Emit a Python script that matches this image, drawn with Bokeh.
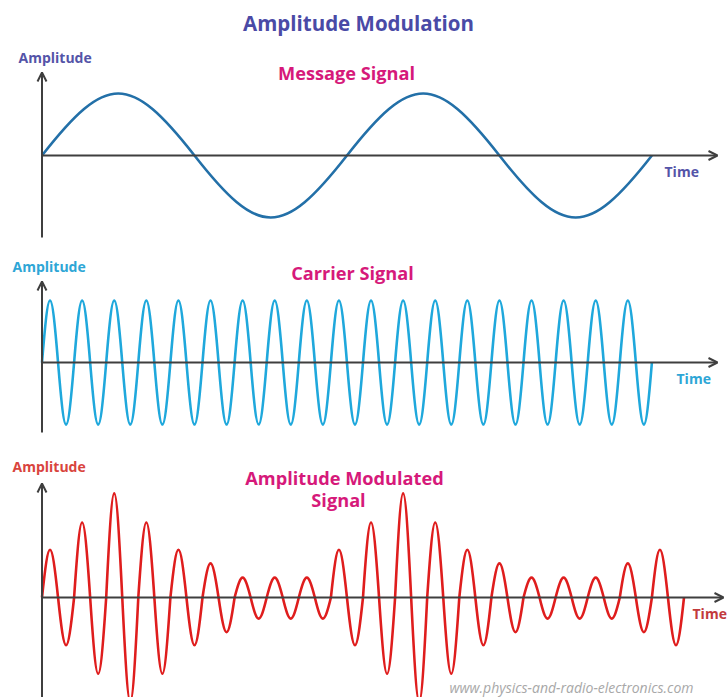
import numpy as np
from bokeh.plotting import figure
from bokeh.layouts import column
from bokeh.models import Range1d, Label, Arrow, OpenHead, ColumnDataSource
from bokeh.embed import file_html
from bokeh.resources import INLINE

# ---------------- data ----------------
# time unit = one carrier period; amplitude unit = carrier amplitude
message_period = 9.5
message_half_cycle_peaks = [1.0, -1.0, 1.0, -1.0]

carrier_period = 1.0
carrier_half_cycle_peaks = [1.0, -1.0, 1.0, -1.0, 1.0, -1.0, 1.0, -1.0, 1.0, -1.0,
                            1.0, -1.0, 1.0, -1.0, 1.0, -1.0, 1.0, -1.0, 1.0, -1.0,
                            1.0, -1.0, 1.0, -1.0, 1.0, -1.0, 1.0, -1.0, 1.0, -1.0,
                            1.0, -1.0, 1.0, -1.0, 1.0, -1.0, 1.0, -1.0]

am_period = 1.0
am_half_cycle_peaks = [0.77, -0.77, 1.21, -1.23, 1.68, -1.68, 1.21, -1.23, 0.77, -0.77,
                       0.55, -0.56, 0.32, -0.34, 0.32, -0.34, 0.32, -0.34, 0.77, -0.77,
                       1.21, -1.23, 1.68, -1.68, 1.21, -1.23, 0.77, -0.77, 0.55, -0.56,
                       0.32, -0.34, 0.32, -0.34, 0.32, -0.34, 0.55, -0.56, 0.77, -0.77]

title_text = "Amplitude Modulation"
panel_titles = [["Message Signal"], ["Carrier Signal"], ["Amplitude Modulated", "Signal"]]
axis_labels = ["Amplitude", "Time"]
watermark = "www.physics-and-radio-electronics.com"

# ---------------- layout ----------------
W = 728
PX_X = 32.1      # px per time unit
PX_Y = 62.0      # px per amplitude unit
ORIGIN_X = 41.5  # x of the time origin
XMIN = (0 - ORIGIN_X) / PX_X
XMAX = (W - ORIGIN_X) / PX_X

AXIS_COLOR = "#3f3f3f"
FONT = "Open Sans"


def make_fig(page_top, page_bottom, base):
    h = page_bottom - page_top
    p = figure(width=W, height=h, output_backend="svg", toolbar_location=None,
               x_range=Range1d(XMIN, XMAX),
               y_range=Range1d((base - page_bottom) / PX_Y, (base - page_top) / PX_Y),
               x_axis_location=None, y_axis_location=None, min_border=0)
    p.grid.visible = False
    p.outline_line_color = None
    p.background_fill_color = "white"
    p.border_fill_color = "white"
    return p


def label(p, page_top, X, Y, text, size, color, align="left", style="bold"):
    h = p.height
    p.add_layout(Label(x=X, y=h - (Y - page_top), x_units="screen", y_units="screen",
                       text=text, text_font=FONT, text_font_size=f"{size}px",
                       text_font_style=style, text_color=color, text_align=align,
                       text_baseline="middle"))


def wave(p, period, peaks, color, width):
    n = len(peaks)
    half = period / 2.0
    x0 = np.arange(n) * half
    x1 = x0 + half
    a = np.asarray(peaks)
    c = 4.0 / (3.0 * np.pi) * half
    src = ColumnDataSource(dict(x0=x0, y0=np.zeros(n), x1=x1, y1=np.zeros(n),
                                cx0=x0 + c, cy0=4.0 / 3.0 * a,
                                cx1=x1 - c, cy1=4.0 / 3.0 * a))
    p.bezier(x0="x0", y0="y0", x1="x1", y1="y1", cx0="cx0", cy0="cy0",
             cx1="cx1", cy1="cy1", source=src, line_color=color, line_width=width)


def axes(p, y_bottom, y_top, x_end):
    p.add_layout(Arrow(end=OpenHead(size=9, line_color=AXIS_COLOR, line_width=2),
                       x_start=0, y_start=y_bottom, x_end=0, y_end=y_top,
                       line_color=AXIS_COLOR, line_width=2))
    p.add_layout(Arrow(end=OpenHead(size=9, line_color=AXIS_COLOR, line_width=2),
                       x_start=0, y_start=0, x_end=x_end, y_end=0,
                       line_color=AXIS_COLOR, line_width=2))


# ---- panel 1: message ----
T1, B1, BASE1 = 0, 245, 155
p1 = make_fig(T1, B1, BASE1)
axes(p1, (BASE1 - 237) / PX_Y, (BASE1 - 72) / PX_Y, (717 - ORIGIN_X) / PX_X)
wave(p1, message_period, message_half_cycle_peaks, "#2370a8", 2.6)
label(p1, T1, 358, 22, title_text, 20.5, "#4a4aa6", align="center")
label(p1, T1, 18, 57, axis_labels[0], 14, "#5454a8")
label(p1, T1, 346, 72, panel_titles[0][0], 18.2, "#d6197a", align="center")
label(p1, T1, 664, 171, axis_labels[1], 14, "#5454a8")

# ---- panel 2: carrier ----
T2, B2, BASE2 = 245, 450, 362
p2 = make_fig(T2, B2, BASE2)
axes(p2, (BASE2 - 432) / PX_Y, (BASE2 - 281) / PX_Y, (717 - ORIGIN_X) / PX_X)
wave(p2, carrier_period, carrier_half_cycle_peaks, "#1fa8dc", 2.6)
label(p2, T2, 12, 266, axis_labels[0], 14, "#2ea6d6")
label(p2, T2, 352, 272, panel_titles[1][0], 18.2, "#d6197a", align="center")
label(p2, T2, 676, 378, axis_labels[1], 14, "#2ea6d6")

# ---- panel 3: AM ----
T3, B3, BASE3 = 450, 697, 597
p3 = make_fig(T3, B3, BASE3)
axes(p3, (BASE3 - B3) / PX_Y, (BASE3 - 483) / PX_Y, (723 - ORIGIN_X) / PX_X)
wave(p3, am_period, am_half_cycle_peaks, "#df1d1d", 2.6)
label(p3, T3, 12, 466, axis_labels[0], 14, "#d9443d")
label(p3, T3, 344, 477, panel_titles[2][0], 18.2, "#d6197a", align="center")
label(p3, T3, 338, 499, panel_titles[2][1], 18.2, "#d6197a", align="center")
label(p3, T3, 692, 613, axis_labels[1], 14, "#c23a3c")
label(p3, T3, 449, 687, watermark, 14, "#a8a8a8", style="italic")

layout = column(p1, p2, p3, spacing=0)
open("out.html", "w").write(file_html(layout, INLINE))
